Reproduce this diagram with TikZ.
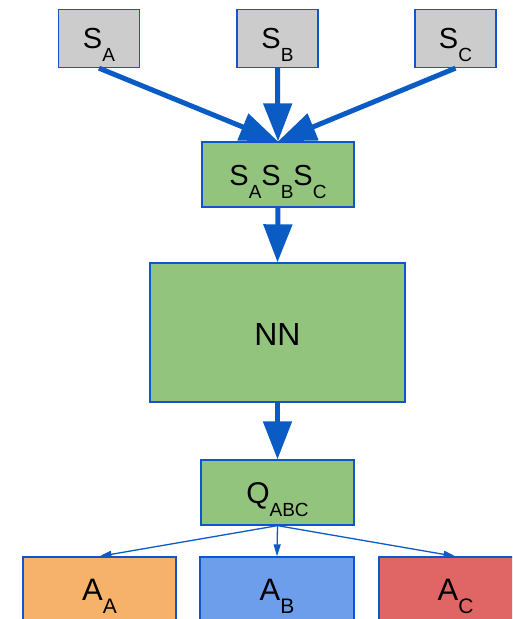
\documentclass[tikz,border=0pt]{standalone}
\usepackage{fontspec}
\setmainfont{Liberation Sans}
\usetikzlibrary{arrows.meta}
\definecolor{bordercol}{HTML}{1155CC}
\definecolor{arrowcol}{HTML}{0B5BC4}
\definecolor{grayfill}{HTML}{CCCCCC}
\definecolor{greenfill}{HTML}{93C47D}
\definecolor{orangefill}{HTML}{F6B26B}
\definecolor{bluefill}{HTML}{6D9EEB}
\definecolor{redfill}{HTML}{E06666}
\newcommand\mysb[2]{\raisebox{-13pt}{\fontsize{#1}{#1}\selectfont #2}}
\begin{document}
\begin{tikzpicture}[x=1pt,y=-1pt,
  box/.style={rectangle, draw=bordercol, line width=1.3pt, inner sep=0pt},
  lab/.style={anchor=base, inner sep=0pt},
  thickarrow/.style={draw=arrowcol, line width=5pt, -{Triangle[length=38pt,width=28pt]}},
  thinarrow/.style={draw=arrowcol, line width=1.3pt, -{Triangle[length=12pt,width=7pt]}}]
\useasboundingbox (0,0) rectangle (512,619);
\clip (0,0) rectangle (512,619);
% boxes
\node[box, fill=grayfill, minimum width=81pt, minimum height=58pt] (sa) at (99,38.5) {};
\node[box, fill=grayfill, minimum width=81pt, minimum height=58pt] (sb) at (277.5,38.5) {};
\node[box, fill=grayfill, minimum width=81pt, minimum height=58pt] (sc) at (455.5,38.5) {};
\node[box, fill=greenfill, minimum width=152pt, minimum height=65pt] (sabc) at (278,174.5) {};
\node[box, fill=greenfill, minimum width=255pt, minimum height=139pt] (nn) at (277.5,332.5) {};
\node[box, fill=greenfill, minimum width=153pt, minimum height=65pt] (q) at (277.5,492.5) {};
\node[box, fill=orangefill, minimum width=153pt, minimum height=65pt] (aa) at (99.5,589.5) {};
\node[box, fill=bluefill, minimum width=154pt, minimum height=65pt] (ab) at (277,589.5) {};
\node[box, fill=redfill, minimum width=153pt, minimum height=65pt] (ac) at (455.5,589.5) {};
% labels
\node[lab] (sa-t) at (99,48) {\fontsize{29}{29}\selectfont S\mysb{19}{A}};
\node[lab] (sb-t) at (277.5,48) {\fontsize{29}{29}\selectfont S\mysb{19}{B}};
\node[lab] (sc-t) at (455.5,48) {\fontsize{29}{29}\selectfont S\mysb{19}{C}};
\node[lab] (sabc-t) at (278,185) {\fontsize{29}{29}\selectfont S\mysb{19}{A}S\mysb{19}{B}S\mysb{19}{C}};
\node[lab] (nn-t) at (277.5,345) {\fontsize{32}{32}\selectfont NN};
\node[lab] (q-t) at (277.5,503) {\fontsize{30}{30}\selectfont Q\mysb{19}{ABC}};
\node[lab] (aa-t) at (99.5,600) {\fontsize{31}{31}\selectfont A\mysb{21}{A}};
\node[lab] (ab-t) at (277,600) {\fontsize{31}{31}\selectfont A\mysb{21}{B}};
\node[lab] (ac-t) at (455.5,600) {\fontsize{31}{31}\selectfont A\mysb{21}{C}};
% arrows
\draw[thickarrow] (sa.south) -- (sabc.north);
\draw[thickarrow] (sb.south) -- (sabc.north);
\draw[thickarrow] (sc.south) -- (sabc.north);
\draw[thickarrow] (sabc.south) -- (nn.north);
\draw[thickarrow] (nn.south) -- (q.north);
\draw[thinarrow] (q.south) -- (aa.north);
\draw[thinarrow] (q.south) -- (ab.north);
\draw[thinarrow] (q.south) -- (ac.north);
\end{tikzpicture}
\end{document}
